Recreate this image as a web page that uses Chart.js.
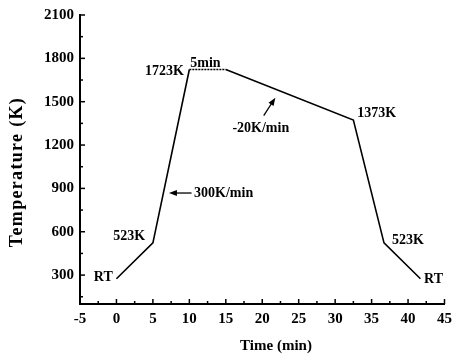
<!DOCTYPE html>
<html>
<head>
<meta charset="utf-8">
<script src="https://cdn.jsdelivr.net/npm/chart.js@4/dist/chart.umd.min.js"></script>
<style>
  html, body { margin: 0; padding: 0; background: #fff; }
  #wrap { width: 458px; height: 356px; }
</style>
</head>
<body>
<div id="wrap"><canvas id="grafico"></canvas></div>
<script>
// dados do perfil térmico
const tempos = [0, 5, 10, 15, 32.5, 36.7, 41.7];
const temperaturas = [275, 523, 1723, 1723, 1373, 523, 275];

const ticksX = [-5, 0, 5, 10, 15, 20, 25, 30, 35, 40, 45];
const ticksY = [300, 600, 900, 1200, 1500, 1800, 2100];

// rótulos [texto, x, y] em coordenadas de dados
const rotulos = [
  ['RT', -1.8, 286],
  ['523K', 1.75, 571],
  ['1723K', 6.6, 1707],
  ['5min', 12.2, 1767],
  ['300K/min', 14.7, 868],
  ['-20K/min', 19.8, 1316],
  ['1373K', 35.7, 1419],
  ['523K', 40.0, 541],
  ['RT', 43.5, 272]
];

// setas [x0, y0, x1, y1] (cauda -> ponta)
const setas = [
  [10.3, 868, 7.2, 868],
  [20.2, 1403, 21.8, 1528]
];

const fonteSerif = "'Liberation Serif', 'Times New Roman', serif";

const pluginExtras = {
  id: 'extras',
  afterDatasetsDraw(chart) {
    const { ctx, scales: { x, y } } = chart;
    ctx.save();
    ctx.strokeStyle = '#000';
    ctx.fillStyle = '#000';

    // ticks para dentro (maiores e menores)
    ctx.lineWidth = 1.5;
    const base = y.getPixelForValue(100);
    const esq = x.getPixelForValue(-5);
    for (let v = -5; v <= 45; v += 2.5) {
      const px = x.getPixelForValue(v);
      const len = (v % 5 === 0) ? 5 : 3;
      ctx.beginPath();
      ctx.moveTo(px, base);
      ctx.lineTo(px, base - len);
      ctx.stroke();
    }
    for (let v = 150; v <= 2100; v += 150) {
      const py = y.getPixelForValue(v);
      const len = (v % 300 === 0) ? 5 : 3;
      ctx.beginPath();
      ctx.moveTo(esq, py);
      ctx.lineTo(esq + len, py);
      ctx.stroke();
    }

    // rótulos
    ctx.font = 'bold 14px ' + fonteSerif;
    ctx.textAlign = 'center';
    ctx.textBaseline = 'middle';
    rotulos.forEach(([t, vx, vy]) => {
      ctx.fillText(t, x.getPixelForValue(vx), y.getPixelForValue(vy));
    });

    // setas
    ctx.lineWidth = 1.3;
    setas.forEach(([x0, y0, x1, y1]) => {
      const ax = x.getPixelForValue(x0), ay = y.getPixelForValue(y0);
      const bx = x.getPixelForValue(x1), by = y.getPixelForValue(y1);
      const ang = Math.atan2(by - ay, bx - ax);
      ctx.beginPath();
      ctx.moveTo(ax, ay);
      ctx.lineTo(bx - 4 * Math.cos(ang), by - 4 * Math.sin(ang));
      ctx.stroke();
      ctx.beginPath();
      ctx.moveTo(bx, by);
      ctx.lineTo(bx - 8 * Math.cos(ang) + 3 * Math.sin(ang), by - 8 * Math.sin(ang) - 3 * Math.cos(ang));
      ctx.lineTo(bx - 8 * Math.cos(ang) - 3 * Math.sin(ang), by - 8 * Math.sin(ang) + 3 * Math.cos(ang));
      ctx.closePath();
      ctx.fill();
    });

    // título do eixo X
    ctx.font = 'bold 15px ' + fonteSerif;
    ctx.fillText('Time (min)', 276, 346);

    // título do eixo Y
    ctx.font = 'bold 18px ' + fonteSerif;
    ctx.translate(17, 172);
    ctx.rotate(-Math.PI / 2);
    const txt = 'Temperature (K)';
    const w = ctx.measureText(txt).width;
    if (w < 149) ctx.letterSpacing = ((149 - w) / (txt.length - 1)).toFixed(2) + 'px';
    ctx.fillText(txt, 0, 0);
    ctx.restore();
  }
};

new Chart(document.getElementById('grafico'), {
  type: 'line',
  data: {
    datasets: [{
      data: tempos.map((t, i) => ({ x: t, y: temperaturas[i] })),
      borderColor: '#000',
      borderWidth: 1.6,
      pointRadius: 0,
      fill: false,
      tension: 0,
      segment: {
        borderDash: c => c.p0DataIndex === 2 ? [2, 1] : undefined
      }
    }]
  },
  options: {
    responsive: true,
    maintainAspectRatio: false,
    animation: false,
    layout: { padding: { top: 14, right: 7, left: 0, bottom: 0 }, autoPadding: false },
    plugins: { legend: { display: false }, tooltip: { enabled: false } },
    scales: {
      x: {
        type: 'linear',
        min: -5,
        max: 45,
        afterBuildTicks: s => { s.ticks = ticksX.map(v => ({ value: v })); },
        afterFit: s => { s.height = 52; },
        grid: { display: false, drawTicks: false },
        border: { display: true, color: '#000', width: 2 },
        ticks: {
          color: '#000',
          padding: 6,
          callback: v => String(v),
          font: { family: fonteSerif, size: 15, weight: 'bold' }
        }
      },
      y: {
        min: 100,
        max: 2100,
        afterBuildTicks: s => { s.ticks = ticksY.map(v => ({ value: v })); },
        afterFit: s => { s.width = 80; },
        grid: { display: false, drawTicks: false },
        border: { display: true, color: '#000', width: 2 },
        ticks: {
          color: '#000',
          padding: 6,
          callback: v => String(v),
          font: { family: fonteSerif, size: 15, weight: 'bold' }
        }
      }
    }
  },
  plugins: [pluginExtras]
});
</script>
</body>
</html>
